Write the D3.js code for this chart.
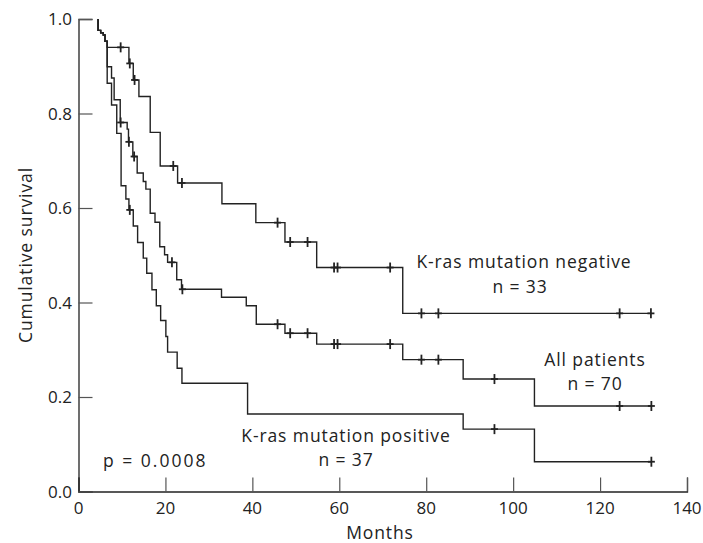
<!DOCTYPE html>
<html>
<head>
<meta charset="utf-8">
<script src="https://cdn.jsdelivr.net/npm/d3@7"></script>
<style>
  body { margin: 0; background: #fff; }
  svg text { font-family: "Open Sans", "Noto Sans", sans-serif; fill: #222; }
  svg text.lbl { font-size: 17.5px; letter-spacing: 0.9px; }
</style>
</head>
<body>
<div id="chart"></div>
<script>
// Kaplan-Meier steps (months, survival after the step)
var startTime = 4.5;

var negTimes = [4.5, 5.1, 5.7, 6.1, 6.6, 11.6, 12.6, 13.9, 16.5, 18.8, 22.8, 33, 40.8, 47.5, 54.8, 74.6];
var negSurv  = [0.976, 0.971, 0.966, 0.953, 0.94, 0.906, 0.871, 0.836, 0.76, 0.689, 0.653, 0.609, 0.569, 0.528, 0.474, 0.377];
var negCensor = [9.7, 11.8, 12.9, 21.8, 23.8, 45.8, 48.7, 52.7, 58.8, 59.6, 71.7, 78.9, 82.8, 124.5, 131.7];

var allTimes = [4.5, 5.1, 5.7, 6.1, 6.6, 7.6, 8.2, 9.6, 11.2, 11.5, 12.5, 13.5, 14.9, 15.5, 16.5, 17.6, 18.7, 19.8, 20.5, 22.6, 23.7, 32.9, 38.6, 40.9, 47.5, 54.8, 74.6, 88.5, 104.9];
var allSurv  = [0.976, 0.971, 0.966, 0.953, 0.899, 0.875, 0.829, 0.781, 0.767, 0.74, 0.709, 0.674, 0.656, 0.64, 0.589, 0.57, 0.518, 0.501, 0.485, 0.448, 0.428, 0.411, 0.393, 0.354, 0.335, 0.312, 0.279, 0.238, 0.181];
var allCensor = [9.7, 11.6, 12.8, 21.5, 23.9, 45.8, 48.7, 52.7, 58.8, 59.6, 71.7, 78.9, 82.8, 95.7, 124.5, 131.8];

var posTimes = [4.5, 5.1, 5.7, 6.1, 6.6, 7.6, 8.8, 9.8, 10.9, 11.6, 12.6, 13.6, 14.9, 15.7, 16.9, 17.9, 18.9, 20.1, 20.5, 22.7, 23.8, 38.9, 88.5, 104.9];
var posSurv  = [0.976, 0.971, 0.966, 0.953, 0.864, 0.818, 0.758, 0.647, 0.619, 0.596, 0.562, 0.527, 0.494, 0.462, 0.427, 0.393, 0.362, 0.328, 0.295, 0.261, 0.229, 0.164, 0.132, 0.063];
var posCensor = [11.8, 95.7, 131.8];

var xTicks = [0, 20, 40, 60, 80, 100, 120, 140];
var yTicks = [0, 0.2, 0.4, 0.6, 0.8, 1.0];

var width = 703, height = 543;
var ink = "#222";

var svg = d3.select("#chart").append("svg")
  .attr("width", width)
  .attr("height", height);

var x = d3.scaleLinear().domain([0, 140]).range([78.5, 687]);
var y = d3.scaleLinear().domain([0, 1]).range([491.5, 19]);

// axes, ticks pointing inward
var xAxis = svg.append("g")
  .attr("transform", "translate(0," + y(0) + ")")
  .call(d3.axisTop(x).tickValues(xTicks).tickSize(14).tickFormat(""));
var yAxis = svg.append("g")
  .attr("transform", "translate(" + x(0) + ",0)")
  .call(d3.axisRight(y).tickValues(yTicks).tickSize(14).tickFormat(""));

[xAxis, yAxis].forEach(function (g) {
  g.select(".domain").attr("stroke", ink).attr("stroke-width", 1.3);
  g.selectAll(".tick line").attr("stroke", "#555").attr("stroke-width", 1.2);
});

svg.selectAll(".xlab")
  .data(xTicks)
  .enter().append("text")
  .attr("x", function (d) { return x(d); })
  .attr("y", 514)
  .attr("text-anchor", "middle")
  .style("font-size", "17px")
  .text(function (d) { return d; });

svg.selectAll(".ylab")
  .data(yTicks)
  .enter().append("text")
  .attr("x", 72)
  .attr("y", function (d) { return y(d) + 6; })
  .attr("text-anchor", "end")
  .style("font-size", "17px")
  .text(d3.format(".1f"));

svg.append("text")
  .attr("class", "lbl")
  .attr("x", 380).attr("y", 539)
  .attr("text-anchor", "middle")
  .text("Months");

svg.append("text")
  .attr("class", "lbl")
  .attr("transform", "translate(32,255) rotate(-90)")
  .attr("text-anchor", "middle")
  .text("Cumulative survival");

// curves
var line = d3.line()
  .x(function (d) { return x(d[0]); })
  .y(function (d) { return y(d[1]); })
  .curve(d3.curveStepAfter);

function drawCurve(times, surv, censor) {
  var pts = [[startTime, 1]];
  times.forEach(function (t, i) { pts.push([t, surv[i]]); });
  var end = d3.max(censor);
  pts.push([end, surv[surv.length - 1]]);

  svg.append("path")
    .attr("d", line(pts))
    .attr("fill", "none")
    .attr("stroke", ink)
    .attr("stroke-width", 1.4);

  var marks = svg.append("g");
  censor.forEach(function (c) {
    var i = d3.bisectRight(times, c);
    var s = i === 0 ? 1 : surv[i - 1];
    var cx = x(c), cy = y(s);
    marks.append("line")
      .attr("x1", cx).attr("x2", cx)
      .attr("y1", cy - 5).attr("y2", cy + 5)
      .attr("stroke", ink).attr("stroke-width", 1.8);
    marks.append("line")
      .attr("x1", cx - 3.5).attr("x2", cx + 3.5)
      .attr("y1", cy).attr("y2", cy)
      .attr("stroke", ink).attr("stroke-width", 1.8);
  });
}

drawCurve(negTimes, negSurv, negCensor);
drawCurve(allTimes, allSurv, allCensor);
drawCurve(posTimes, posSurv, posCensor);

// labels
var labels = [
  { t: "K-ras mutation negative", x: 524, y: 268 },
  { t: "n = 33", x: 520, y: 293 },
  { t: "All patients", x: 595, y: 366 },
  { t: "n = 70", x: 595, y: 390 },
  { t: "K-ras mutation positive", x: 346, y: 442 },
  { t: "n = 37", x: 346, y: 466 }
];
svg.selectAll(".curvelbl")
  .data(labels)
  .enter().append("text")
  .attr("class", "lbl")
  .attr("x", function (d) { return d.x; })
  .attr("y", function (d) { return d.y; })
  .attr("text-anchor", "middle")
  .text(function (d) { return d.t; });

svg.append("text")
  .attr("class", "lbl")
  .attr("x", 103).attr("y", 467)
  .style("letter-spacing", "2px")
  .text("p = 0.0008");
</script>
</body>
</html>
